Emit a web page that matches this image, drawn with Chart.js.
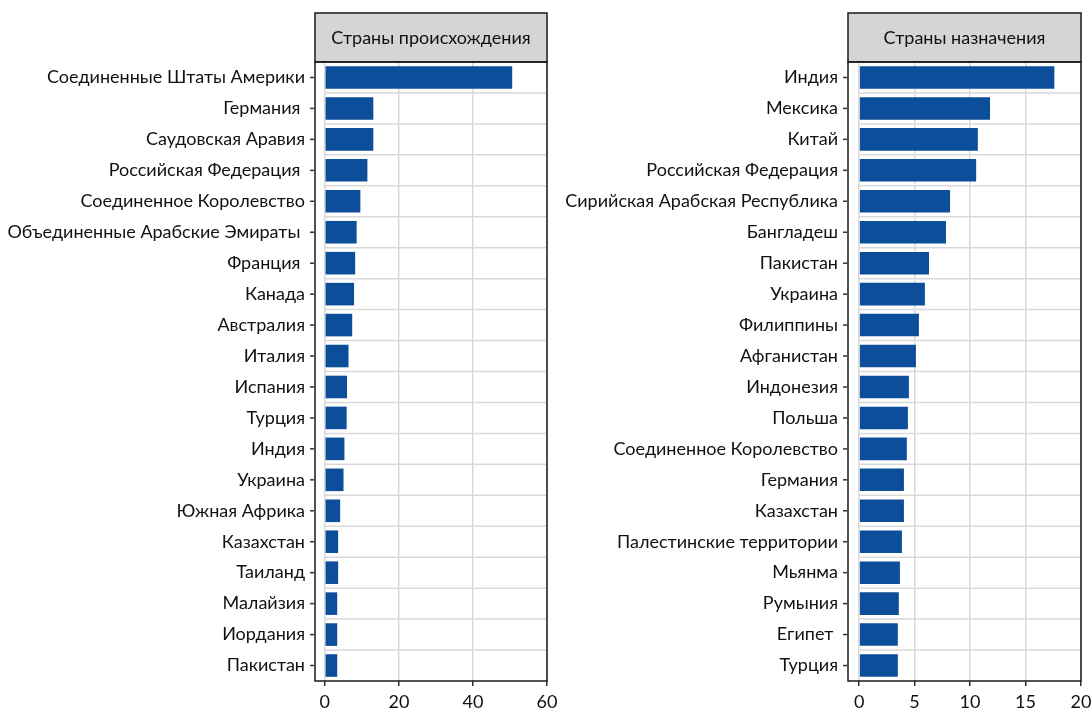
<!DOCTYPE html>
<html><head><meta charset="utf-8">
<script src="https://cdn.jsdelivr.net/npm/chart.js@4/dist/chart.umd.min.js"></script>
<style>
html,body{margin:0;padding:0;background:#fff;width:1091px;height:708px;overflow:hidden}
.wrap{position:absolute;top:0;height:708px}
#w1{left:0;width:560px}
#w2{left:560px;width:531px}
</style></head><body>
<div class="wrap" id="w1"><canvas id="c1"></canvas></div>
<div class="wrap" id="w2"><canvas id="c2"></canvas></div>
<script>
const originTitle = 'Страны происхождения';
const originLabels = ['Соединенные Штаты Америки','Германия ','Саудовская Аравия','Российская Федерация ','Соединенное Королевство','Объединенные Арабские Эмираты ','Франция ','Канада','Австралия','Италия','Испания','Турция','Индия','Украина','Южная Африка','Казахстан','Таиланд','Малайзия','Иордания','Пакистан'];
const originValues = [50.6,13.1,13.1,11.5,9.6,8.6,8.2,7.9,7.4,6.4,6.0,5.9,5.3,5.05,4.15,3.6,3.6,3.35,3.35,3.35];
const originTicks = [0,20,40,60];

const destTitle = 'Страны назначения';
const destLabels = ['Индия','Мексика','Китай','Российская Федерация','Сирийская Арабская Республика','Бангладеш','Пакистан','Украина','Филиппины','Афганистан','Индонезия','Польша','Соединенное Королевство','Германия','Казахстан','Палестинские территории','Мьянма','Румыния','Египет ','Турция'];
const destValues = [17.6,11.8,10.7,10.55,8.2,7.83,6.3,5.93,5.39,5.12,4.49,4.4,4.3,4.04,4.04,3.86,3.68,3.58,3.49,3.49];
const destTicks = [0,5,10,15,20];

const FONT = 'Lato, "Noto Sans", sans-serif';
const BAR = '#0d4e9b';
const GRID = '#d9d9d9';

const framePlugin = {
  id: 'frame',
  beforeDatasetsDraw(chart) {
    const ctx = chart.ctx, ca = chart.chartArea;
    const xs = chart.scales.x, ys = chart.scales.y;
    const x0 = xs.getPixelForValue(0);
    const n = chart.data.labels.length;
    ctx.save();
    ctx.strokeStyle = GRID; ctx.lineWidth = 1.5;
    for (let i = 1; i < n; i++) {
      const y = (ys.getPixelForValue(i - 1) + ys.getPixelForValue(i)) / 2;
      ctx.beginPath(); ctx.moveTo(x0, y); ctx.lineTo(ca.right, y); ctx.stroke();
    }
    ctx.restore();
  },
  afterDraw(chart, args, opts) {
    const ctx = chart.ctx, ca = chart.chartArea;
    const ys = chart.scales.y;
    const top = opts.headerTop;
    ctx.save();
    ctx.fillStyle = '#d4d5d7';
    ctx.fillRect(ca.left, top, ca.right - ca.left, ca.top - top);
    ctx.strokeStyle = '#1a1a1a'; ctx.lineWidth = 1.5;
    ctx.strokeRect(ca.left, top, ca.right - ca.left, ca.top - top);
    ctx.strokeRect(ca.left, ca.top, ca.right - ca.left, ca.bottom - ca.top);
    ctx.fillStyle = '#111';
    ctx.font = '18px ' + FONT;
    ctx.textAlign = 'center'; ctx.textBaseline = 'middle';
    ctx.fillText(opts.title, (ca.left + ca.right) / 2, (top + ca.top) / 2 + 1);
    ctx.strokeStyle = '#333'; ctx.lineWidth = 1.5;
    for (let i = 0; i < chart.data.labels.length; i++) {
      const y = ys.getPixelForValue(i);
      ctx.beginPath(); ctx.moveTo(ca.left - 5, y); ctx.lineTo(ca.left - 1, y); ctx.stroke();
    }
    ctx.restore();
  }
};

function makeChart(id, labels, values, ticks, minV, title, yWidth, padRight) {
  return new Chart(document.getElementById(id), {
    type: 'bar',
    data: { labels: labels, datasets: [{ data: values, backgroundColor: BAR, borderWidth: 0,
      categoryPercentage: 1, barPercentage: 0.73 }] },
    options: {
      indexAxis: 'y', responsive: true, maintainAspectRatio: false, animation: false,
      layout: { padding: { top: 62, right: padRight, bottom: 0, left: 0 } },
      plugins: { legend: { display: false }, tooltip: { enabled: false },
        frame: { headerTop: 13, title: title } },
      scales: {
        x: {
          type: 'linear', min: minV, max: ticks[ticks.length - 1],
          afterBuildTicks(s) { s.ticks = ticks.map(v => ({ value: v })); },
          afterFit(s) { s.height = 27; s.paddingRight = 0; s.paddingLeft = 0; },
          grid: { color: GRID, lineWidth: 1.5, tickLength: 5, tickColor: '#333', tickWidth: 1.5 },
          border: { display: false },
          ticks: { color: '#111', font: { family: FONT, size: 18 }, padding: 5, maxRotation: 0 }
        },
        y: {
          afterFit(s) { s.width = yWidth; },
          grid: { display: false, drawTicks: false },
          border: { display: false },
          ticks: { color: '#111', font: { family: FONT, size: 18 }, padding: 10, autoSkip: false }
        }
      }
    },
    plugins: [framePlugin]
  });
}
makeChart('c1', originLabels, originValues, originTicks, -2.65, originTitle, 315, 13);
makeChart('c2', destLabels, destValues, destTicks, -1.0, destTitle, 288, 10);
</script>
</body></html>
